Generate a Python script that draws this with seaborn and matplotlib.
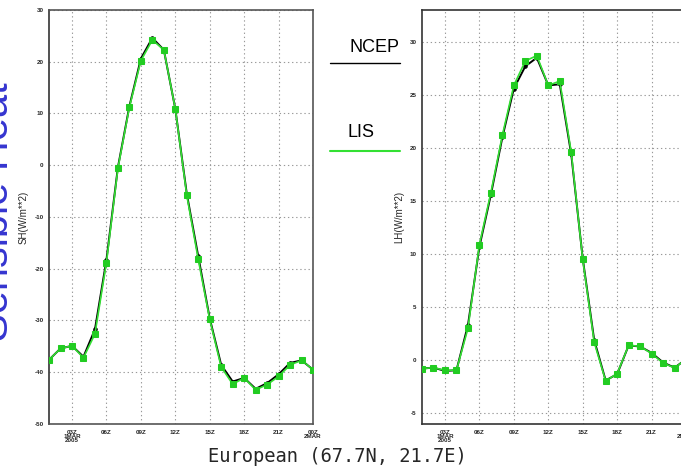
"""Sensible / latent heat flux comparison, NCEP vs LIS, European site."""
import matplotlib
matplotlib.use("Agg")
import matplotlib.pyplot as plt
import pandas as pd
import seaborn as sns

hours = list(range(1, 25))

sh_lis = [-37.6, -35.4, -34.9, -37.2, -32.6, -18.8, -0.6, 11.2, 20.2, 24.2, 22.3, 10.9,
          -5.8, -18.2, -29.8, -39.0, -42.3, -41.1, -43.4, -42.4, -40.8, -38.6, -37.7, -39.5]
sh_ncep = [-37.6, -35.4, -34.9, -37.0, -31.7, -18.3, -0.4, 11.4, 20.6, 24.6, 22.3, 10.9,
           -5.5, -17.6, -29.6, -38.6, -41.8, -41.1, -43.2, -42.1, -40.4, -38.2, -37.7, -39.5]

lh_lis = [-0.78, -0.69, -0.94, -0.94, 3.0, 10.9, 15.8, 21.2, 25.9, 28.2, 28.7, 25.9,
          26.3, 19.6, 9.5, 1.7, -1.95, -1.25, 1.41, 1.32, 0.63, -0.25, -0.72, 0.1]
lh_ncep = [-0.78, -0.69, -1.0, -0.94, 3.3, 10.7, 15.6, 21.0, 25.6, 27.7, 28.5, 25.9,
           26.0, 19.4, 9.6, 1.9, -1.9, -1.3, 1.4, 1.3, 0.7, -0.2, -0.7, 0.1]

xtick_hours = [3, 6, 9, 12, 15, 18, 21, 24]
xtick_labels = ["03Z\n1MAR\n2005", "06Z", "09Z", "12Z", "15Z", "18Z", "21Z", "00Z\n2MAR"]

sh = pd.DataFrame({"hour": hours * 2, "value": sh_ncep + sh_lis,
                   "source": ["NCEP"] * 24 + ["LIS"] * 24})
lh = pd.DataFrame({"hour": hours * 2, "value": lh_ncep + lh_lis,
                   "source": ["NCEP"] * 24 + ["LIS"] * 24})

GREEN = "#33e033"
sns.set_style("white")
plt.rcParams["font.family"] = ["Liberation Sans", "DejaVu Sans"]

fig = plt.figure(figsize=(6.81, 4.67), dpi=100)
ax1 = fig.add_axes([0.0720, 0.0921, 0.3877, 0.8865])
ax2 = fig.add_axes([0.6197, 0.0921, 0.3877, 0.8865])


def draw(ax, df, ylim, yticks, ylabel, dotted_frame):
    sns.lineplot(data=df[df.source == "NCEP"], x="hour", y="value", ax=ax, color="black",
                 lw=1.4, marker="o", ms=2.5, mec="black", zorder=3)
    sns.lineplot(data=df[df.source == "LIS"], x="hour", y="value", ax=ax, color=GREEN,
                 lw=1.2, marker="s", ms=4.2, mec="#22cc22", mfc="#22cc22", zorder=4)
    ax.set_xlim(1, 24)
    ax.set_ylim(*ylim)
    ax.set_xticks(xtick_hours)
    ax.set_xticklabels(xtick_labels, fontsize=4.5, fontweight="bold", linespacing=0.8)
    ax.set_yticks(yticks)
    ax.set_yticklabels([str(t) for t in yticks], fontsize=4.5, fontweight="bold")
    ax.tick_params(axis="both", length=2.5, width=0.8, pad=1.5, direction="out")
    ax.grid(True, color="#999999", ls=(0, (1.2, 2.5)), lw=0.8)
    ax.set_xlabel("")
    ax.set_ylabel(ylabel, fontsize=7, labelpad=4)
    for side, sp in ax.spines.items():
        sp.set_color("#333333")
        sp.set_linewidth(1.2)
        if dotted_frame and side != "left":
            sp.set_linestyle((0, (1.5, 1)))
            sp.set_color("#555555")
    if ax.get_legend():
        ax.get_legend().remove()


draw(ax1, sh, (-50, 30), [-50, -40, -30, -20, -10, 0, 10, 20, 30], "SH(W/m**2)", True)
draw(ax2, lh, (-6, 33), [-5, 0, 5, 10, 15, 20, 25, 30], "LH(W/m**2)", False)

# legend drawn between the panels
fig.text(374 / 681, 1 - 47 / 467, "NCEP", fontsize=13, ha="center", va="center", color="black")
fig.add_artist(plt.Line2D([330 / 681, 400 / 681], [1 - 63 / 467] * 2, color="black", lw=1))
fig.text(361 / 681, 1 - 133 / 467, "LIS", fontsize=13, ha="center", va="center", color="black")
fig.add_artist(plt.Line2D([330 / 681, 400 / 681], [1 - 151 / 467] * 2, color=GREEN, lw=1.5))

fig.text(-0.005, 1 - 212 / 467, "Sensible Heat", rotation=90, fontsize=30, color="#3535d0",
         ha="center", va="center")
fig.text(337 / 681, 1 - 456 / 467, "European (67.7N, 21.7E)", fontsize=13.5,
         family="DejaVu Sans Mono", ha="center", va="center")

plt.savefig("out.png", dpi=100)
plt.close()
